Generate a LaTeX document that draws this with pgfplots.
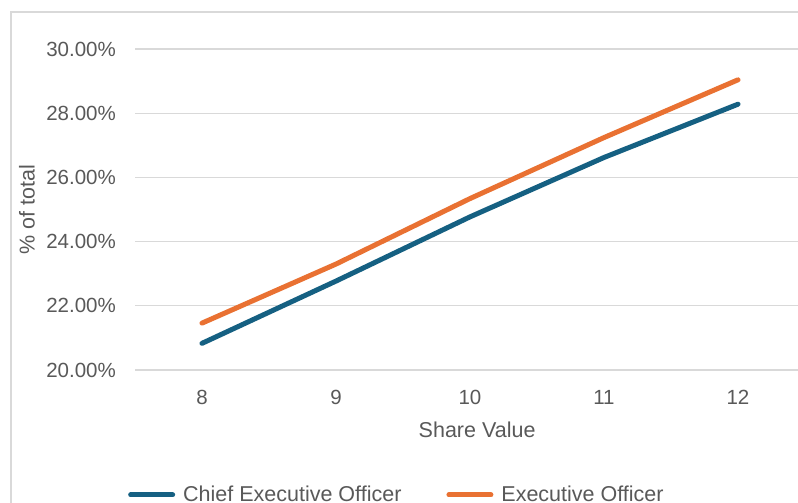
\documentclass[border=0pt]{standalone}
\usepackage{pgfplots}
\pgfplotsset{compat=1.18}
\usepackage{fontspec}
\setmainfont{Liberation Sans}
\definecolor{ceo}{HTML}{156082}
\definecolor{eo}{HTML}{E97132}
\definecolor{gridc}{HTML}{D9D9D9}
\definecolor{txt}{HTML}{595959}
\begin{document}
\begin{tikzpicture}
\useasboundingbox (0pt,0pt) rectangle (798pt,503pt);
\clip (0pt,0pt) rectangle (798pt,503pt);
\fill[white] (0pt,0pt) rectangle (798pt,503pt);
\draw[gridc, line width=1.2pt] (11pt,-20pt) -- (11pt,491pt) -- (820pt,491pt);
\begin{axis}[
  at={(135pt,133pt)}, anchor=south west,
  scale only axis, width=663pt, height=321pt,
  xmin=7.5, xmax=12.448, ymin=20, ymax=30,
  xtick={8,9,10,11,12}, ytick={20,22,24,26,28,30},
  axis line style={draw=none},
  major tick length=0pt,
  ymajorgrids, grid style={gridc, line width=1.2pt},
  clip=false,
  /pgf/number format/assume math mode=true,
  ticklabel style={font=\fontsize{20.5}{25}\selectfont, text=txt},
  yticklabel={\pgfmathprintnumber[fixed,fixed zerofill,precision=2]{\tick}\%},
  yticklabel style={inner sep=0pt, xshift=-19pt},
  xticklabel style={inner sep=0pt, yshift=-20pt},
  xlabel={Share Value}, ylabel={\% of total},
  label style={font=\fontsize{21.5}{25}\selectfont, text=txt},
  xlabel style={at={(axis description cs:0.516,-0.187)}, anchor=center},
  ylabel style={at={(axis description cs:-0.163,0.5)}, anchor=center},
  legend columns=2,
  legend style={at={(rel axis cs:-0.0106,-0.389)}, anchor=west, draw=none, fill=none,
    inner sep=0pt, nodes={inner sep=0pt, font=\fontsize{21.5}{25}\selectfont, text=txt},
    /tikz/every odd column/.append style={column sep=8pt},
    /tikz/every even column/.append style={column sep=45pt}},
  legend image code/.code={\draw[#1, line width=5pt, line cap=round] (2.5pt,0pt) -- (44.5pt,0pt);},
]
\addplot[ceo, line width=5pt, line cap=round, line join=round] coordinates {
(8,20.83) (9,22.77) (10,24.77) (11,26.62) (12,28.28)};
\addlegendentry{Chief Executive Officer}
\addplot[eo, line width=5pt, line cap=round, line join=round] coordinates {
(8,21.46) (9,23.30) (10,25.34) (11,27.24) (12,29.04)};
\addlegendentry{Executive Officer}
\end{axis}
\end{tikzpicture}
\end{document}
